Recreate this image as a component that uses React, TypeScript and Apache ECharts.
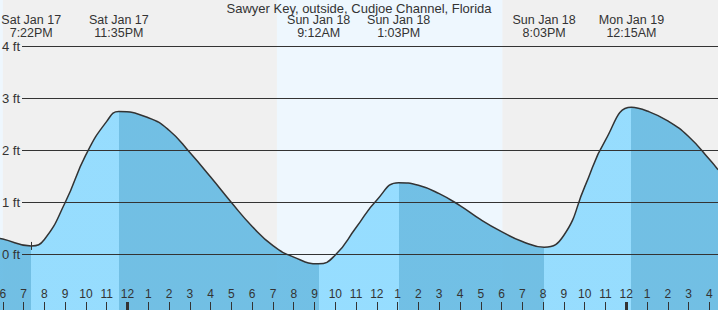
import React, { useEffect, useRef } from 'react';
import * as echarts from 'echarts';

// ---- data (hours counted from Sat Jan 17 00:00) ----
const TITLE = 'Sawyer Key, outside, Cudjoe Channel, Florida';

// heights (ft), mostly at the hour ticks
const readHours = [17.86, 18, 20, 21, 22, 23, 25, 26, 27, 28, 29, 30, 31, 32, 34, 35, 36, 38, 39, 40, 41, 42, 43, 45, 46, 47, 49, 50, 51, 52, 52.42];
const readFeet = [0.31, 0.30, 0.29, 1.00, 1.92, 2.56, 2.63, 2.39, 1.96, 1.49, 1.00, 0.54, 0.17, -0.05, -0.01, 0.52, 1.05, 1.33, 1.17, 0.94, 0.67, 0.44, 0.25, 0.37, 1.30, 2.20, 2.76, 2.57, 2.27, 1.83, 1.63];

// tide extremes
const eventDays = ['Sat Jan 17', 'Sat Jan 17', 'Sun Jan 18', 'Sun Jan 18', 'Sun Jan 18', 'Mon Jan 19'];
const eventTimes = ['7:22PM', '11:35PM', '9:12AM', '1:03PM', '8:03PM', '12:15AM'];
const eventKinds = ['low', 'high', 'low', 'high', 'low', 'high'];
const eventFeet = [0.165, 2.75, -0.18, 1.38, 0.14, 2.83];

const dayStart: Record<string, number> = { 'Sat Jan 17': 0, 'Sun Jan 18': 24, 'Mon Jan 19': 48 };
const daylight = [[17.5, 18.0], [31.19, 42.04]];
const hourTicks = [18, 19, 20, 21, 22, 23, 24, 25, 26, 27, 28, 29, 30, 31, 32, 33, 34, 35, 36, 37, 38, 39, 40, 41, 42, 43, 44, 45, 46, 47, 48, 49, 50, 51, 52];
const midnightTicks = [24, 48];
const feetTicks = [0, 1, 2, 3, 4];
const nowMarkerEvent = 0;

// ---- view / style ----
const X_MIN = 17.864;
const X_MAX = 52.416;
const Y_MIN = -1.067;
const Y_MAX = 4.894;
const W = 718;
const H = 310;
const FONT = '"Liberation Sans", Arial, Helvetica, sans-serif';
const TEXT = '#333';
const NIGHT = '#f0f0f0';
const DAY = '#eef7fe';
const RISING = 'rgb(143,219,255)';
const FALLING = 'rgb(103,187,227)';

function parseTime(day: string, t: string): number {
  const m = t.match(/(\d+):(\d+)(AM|PM)/)!;
  let h = parseInt(m[1], 10) % 12;
  if (m[3] === 'PM') h += 12;
  return dayStart[day] + h + parseInt(m[2], 10) / 60;
}

export default function App() {
  const ref = useRef<HTMLDivElement>(null);
  useEffect(() => {
    const el = ref.current!;
    const chart = echarts.init(el, null, { renderer: 'svg', width: W, height: H });

    const eventHours = eventTimes.map((t, i) => parseTime(eventDays[i], t));
    const pts: [number, number][] = [];
    readHours.forEach((h, i) => pts.push([h, readFeet[i]]));
    eventHours.forEach((h, i) => pts.push([h, eventFeet[i]]));
    pts.sort((a, b) => a[0] - b[0]);

    const bounds = [X_MIN, ...eventHours, X_MAX];
    const pieces = [] as any[];
    for (let i = 0; i < bounds.length - 1; i++) {
      let rising: boolean;
      if (i < eventKinds.length) rising = eventKinds[i] === 'high';
      else rising = eventKinds[eventKinds.length - 1] === 'low';
      const p: any = { gte: bounds[i], color: rising ? RISING : FALLING };
      if (i === bounds.length - 2) p.lte = bounds[i + 1] + 1;
      else p.lt = bounds[i + 1];
      if (i === 0) p.gte = bounds[i] - 1;
      pieces.push(p);
    }

    const gridStart = X_MIN + (22 / W) * (X_MAX - X_MIN);

    const option: any = {
      animation: false,
      backgroundColor: NIGHT,
      textStyle: { fontFamily: FONT },
      grid: { left: 0, right: 0, top: 0, bottom: 0, containLabel: false, outerBoundsMode: 'none' },
      xAxis: [
        {
          type: 'value', min: X_MIN, max: X_MAX, position: 'bottom', z: 10,
          axisLine: { show: false, onZero: false },
          splitLine: { show: false },
          axisTick: { show: true, inside: true, length: 8, customValues: hourTicks, lineStyle: { color: TEXT, width: 1 } },
          axisLabel: {
            show: true, inside: true, margin: 10, customValues: hourTicks, color: TEXT, fontSize: 12, fontFamily: FONT,
            formatter: (v: number) => { const h = Math.round(v) % 12; return String(h === 0 ? 12 : h); },
          },
        },
        {
          type: 'value', min: X_MIN, max: X_MAX, position: 'bottom', z: 11,
          axisLine: { show: false, onZero: false },
          splitLine: { show: false },
          axisTick: { show: true, inside: true, length: 8, customValues: midnightTicks, lineStyle: { color: TEXT, width: 3 } },
          axisLabel: { show: false },
        },
      ],
      yAxis: {
        type: 'value', min: Y_MIN, max: Y_MAX, z: 10,
        axisLine: { show: false, onZero: false },
        axisTick: { show: false },
        splitLine: { show: false },
        axisLabel: { inside: true, margin: 2, customValues: feetTicks, formatter: '{value} ft', color: TEXT, fontSize: 13, fontFamily: FONT },
      },
      visualMap: { type: 'piecewise', show: false, dimension: 0, seriesIndex: 2, pieces },
      series: [
        {
          type: 'line', data: [], z: 0, silent: true,
          markArea: { silent: true, itemStyle: { color: DAY }, data: daylight.map(([a, b]) => [{ xAxis: a }, { xAxis: b }]) },
        },
        {
          type: 'line', data: [], z: 1, silent: true,
          markLine: {
            silent: true, symbol: ['none', 'none'], label: { show: false },
            lineStyle: { color: TEXT, width: 1, type: 'solid' },
            emphasis: { disabled: true },
            data: feetTicks.map((v) => [{ coord: [gridStart, v] }, { coord: [X_MAX, v] }]),
          },
        },
        {
          type: 'line', data: pts, z: 2, silent: true, smooth: 0.5, showSymbol: false, symbol: 'none',
          lineStyle: { color: '#333', width: 1.5 },
          areaStyle: { origin: 'start', opacity: 0.92 },
        },
      ],
    };
    chart.setOption(option);

    const px = (t: number) => chart.convertToPixel({ xAxisIndex: 0 }, t) as number;
    const py = (v: number) => chart.convertToPixel({ yAxisIndex: 0 }, v) as number;
    const graphics: any[] = [
      { type: 'text', x: W / 2, y: 8, z: 20, style: { text: TITLE, fill: TEXT, font: `13px ${FONT}`, lineHeight: 12, align: 'center', verticalAlign: 'middle' } },
    ];
    eventHours.forEach((h, i) => {
      graphics.push({
        type: 'text', x: px(h), y: 26.55, z: 20,
        style: { text: `${eventDays[i]}\n${eventTimes[i]}`, fill: TEXT, font: `12.5px ${FONT}`, lineHeight: 12.5, align: 'center', verticalAlign: 'middle' },
      });
    });
    const nx = Math.round(px(eventHours[nowMarkerEvent])) + 0.5;
    const ny = py(eventFeet[nowMarkerEvent]);
    graphics.push({ type: 'line', z: 20, shape: { x1: nx, y1: ny - 4, x2: nx, y2: ny + 4 }, style: { stroke: TEXT, lineWidth: 1 } });
    chart.setOption({ graphic: graphics });

    return () => chart.dispose();
  }, []);
  return <div ref={ref} style={{ position: 'fixed', left: 0, top: 0, width: W, height: H }} />;
}
